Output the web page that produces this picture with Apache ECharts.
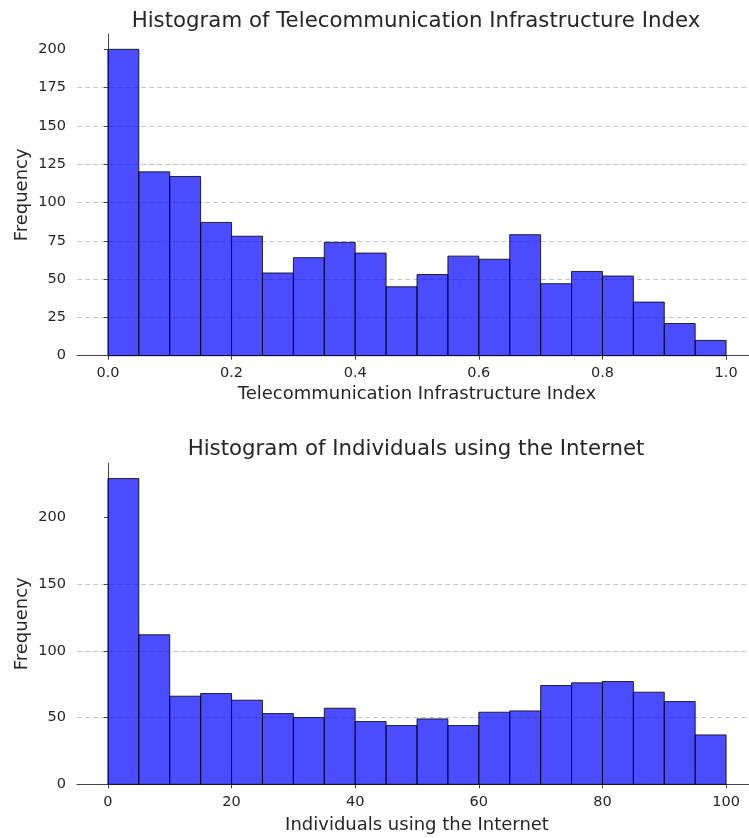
<!DOCTYPE html>
<html>
<head>
<meta charset="utf-8">
<script src="https://cdn.jsdelivr.net/npm/echarts@6/dist/echarts.min.js"></script>
<style>
html,body{margin:0;padding:0;background:#fff;}
#c{width:749px;height:838px;}
</style>
</head>
<body>
<div id="c"></div>
<script>
// ---- data ----
const teleEdges = [0.00,0.05,0.10,0.15,0.20,0.25,0.30,0.35,0.40,0.45,0.50,0.55,0.60,0.65,0.70,0.75,0.80,0.85,0.90,0.95,1.00];
const teleCounts = [200,120,117,87,78,54,64,74,67,45,53,65,63,79,47,55,52,35,21,10];
const teleXTicks = [0,0.2,0.4,0.6,0.8,1.0];
const teleYTicks = [0,25,50,75,100,125,150,175,200];

const netEdges = [0,5,10,15,20,25,30,35,40,45,50,55,60,65,70,75,80,85,90,95,100];
const netCounts = [229,112,66,68,63,53,50,57,47,44,49,44,54,55,74,76,77,69,62,37];
const netXTicks = [0,20,40,60,80,100];
const netYTicks = [0,50,100,150,200];

const titles = ['Histogram of Telecommunication Infrastructure Index','Histogram of Individuals using the Internet'];
const xNames = ['Telecommunication Infrastructure Index','Individuals using the Internet'];

function toBins(edges, counts){
  return counts.map((c,i)=>[edges[i], edges[i+1], c]);
}

const FONT = 'DejaVu Sans';
const TXT = '#262626';

function renderItem(params, api){
  const x0 = api.value(0), x1 = api.value(1), c = api.value(2);
  const p0 = api.coord([x0, 0]);
  const p1 = api.coord([x1, c]);
  return {
    type:'rect',
    shape:{x:p0[0], y:p1[1], width:p1[0]-p0[0], height:p0[1]-p1[1]},
    style:{fill:'rgba(0,0,255,0.7)', stroke:'rgba(0,0,0,0.8)', lineWidth:1}
  };
}

function xAxis(idx, min, max, ticks, name, fmt, gap){
  return {
    type:'value', gridIndex:idx, min:min, max:max,
    name:name, nameLocation:'middle', nameGap:gap, nameMoveOverlap:false,
    nameTextStyle:{fontFamily:FONT, fontSize:18, color:TXT},
    axisLine:{show:true, onZero:false, lineStyle:{color:'#444', width:1}},
    axisTick:{show:true, length:4, customValues:ticks, lineStyle:{color:'#444'}},
    axisLabel:{customValues:ticks, margin:10, fontFamily:FONT, fontSize:14.5, color:TXT, formatter:fmt},
    splitLine:{show:false}
  };
}
function yAxis(idx, max, ticks){
  return {
    type:'value', gridIndex:idx, min:0, max:max,
    name:'Frequency', nameLocation:'middle', nameGap:46, nameRotate:90, nameMoveOverlap:false,
    nameTextStyle:{fontFamily:FONT, fontSize:18, color:TXT},
    axisLine:{show:true, lineStyle:{color:'#444', width:1}},
    axisTick:{show:true, length:4, customValues:ticks, lineStyle:{color:'#444'}},
    axisLabel:{customValues:ticks, margin:11, fontFamily:FONT, fontSize:14.5, color:TXT},
    splitLine:{show:true, showMinLine:false, showMaxLine:false, lineStyle:{type:[5,3], color:'#c8c8c8', width:1}}
  };
}

const chart = echarts.init(document.getElementById('c'), null, {renderer:'canvas'});
chart.setOption({
  animation:false,
  backgroundColor:'#fff',
  title:[
    {text:titles[0], left:411, top:6, textAlign:'center', textStyle:{fontFamily:FONT, fontSize:21.3, fontWeight:'normal', color:TXT}},
    {text:titles[1], left:411, top:434, textAlign:'center', textStyle:{fontFamily:FONT, fontSize:21.3, fontWeight:'normal', color:TXT}}
  ],
  grid:[
    {left:77, width:680, top:34, height:321.7, outerBoundsMode:'none', containLabel:false},
    {left:77, width:680, top:463.3, height:321, outerBoundsMode:'none', containLabel:false}
  ],
  xAxis:[
    xAxis(0, -0.05, 1.05, teleXTicks, xNames[0], v=>v.toFixed(1), 30),
    xAxis(1, -5, 105, netXTicks, xNames[1], v=>String(v), 32)
  ],
  yAxis:[
    yAxis(0, 210, teleYTicks),
    yAxis(1, 240.45, netYTicks)
  ],
  series:[
    {type:'custom', xAxisIndex:0, yAxisIndex:0, renderItem:renderItem, encode:{x:[0,1], y:2}, data:toBins(teleEdges, teleCounts), z:3},
    {type:'custom', xAxisIndex:1, yAxisIndex:1, renderItem:renderItem, encode:{x:[0,1], y:2}, data:toBins(netEdges, netCounts), z:3}
  ]
});
</script>
</body>
</html>
